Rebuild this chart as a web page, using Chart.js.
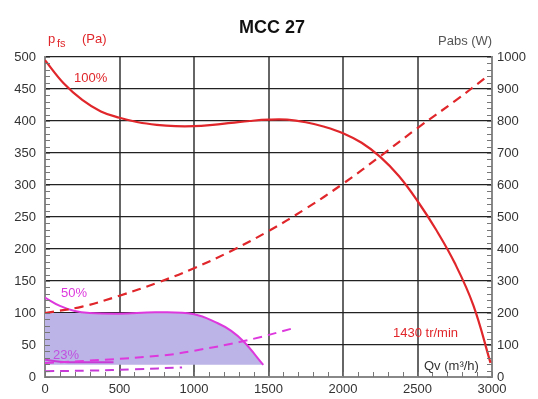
<!DOCTYPE html>
<html>
<head>
<meta charset="utf-8">
<script src="https://cdn.jsdelivr.net/npm/chart.js@4.4.0/dist/chart.umd.js"></script>
<style>
  html, body { margin: 0; padding: 0; background: #fff; }
  #wrap { width: 538px; height: 399px; }
</style>
</head>
<body>
<div id="wrap"><canvas id="c" width="538" height="399"></canvas></div>
<script>
// Qv (m3/h) vs pressure (Pa) / power (W)
const pressure100 = [[0,495],[125,459],[250,433],[375,415],[500,405],[625,398],[750,394],[875,392],[1000,392],[1125,394],[1250,397],[1375,400],[1500,402],[1625,402],[1750,398],[1875,391],[2000,381],[2125,366],[2250,344],[2375,314],[2500,275],[2625,230],[2750,178],[2875,112],[2990,22]];
const power100 = [[0,200],[250,220],[500,254],[750,294],[1000,340],[1250,394],[1500,456],[1750,526],[2000,604],[2250,690],[2500,778],[2750,862],[2970,940]];
const pressure50 = [[0,124],[100,111],[200,103],[300,100],[500,99],[750,101],[1000,98],[1160,84],[1250,72],[1335,55],[1465,19]];
const zone50 = [[0,100],[300,100],[500,99],[750,101],[1000,98],[1160,84],[1250,72],[1335,55],[1465,19]];
const power50 = [[0,44],[400,54],[800,68],[1000,82],[1350,114],[1680,154]];
const pressure23 = [[0,27],[100,24],[250,23],[460,23]];
const power23 = [[0,18],[300,20],[600,24],[920,30]];

const xTicks = [0, 500, 1000, 1500, 2000, 2500, 3000];
const paTicks = [0, 50, 100, 150, 200, 250, 300, 350, 400, 450, 500];
const wTicks = [0, 100, 200, 300, 400, 500, 600, 700, 800, 900, 1000];

const RED = '#e0262a';
const MAG = '#dd38dd';
const FONT = '"Liberation Sans", Arial, sans-serif';

const pts = arr => arr.map(p => ({ x: p[0], y: p[1] }));

// extra texts + minor ticks
const decor = {
  id: 'decor',
  afterDraw(chart) {
    const ctx = chart.ctx;
    const x = chart.scales.x, yl = chart.scales.y, yr = chart.scales.y2;
    const a = chart.chartArea;
    ctx.save();
    ctx.strokeStyle = '#777';
    ctx.lineWidth = 1;
    ctx.beginPath();
    for (let v = 0; v <= 500; v += 10) {
      const py = Math.round(yl.getPixelForValue(v)) + 0.5;
      ctx.moveTo(a.left, py); ctx.lineTo(a.left + 5, py);
    }
    for (let v = 0; v <= 1000; v += 20) {
      const py = Math.round(yr.getPixelForValue(v)) + 0.5;
      ctx.moveTo(a.right, py); ctx.lineTo(a.right - 5, py);
    }
    for (let v = 0; v <= 3000; v += 100) {
      const px = Math.round(x.getPixelForValue(v)) + 0.5;
      ctx.moveTo(px, a.bottom); ctx.lineTo(px, a.bottom - 5);
    }
    ctx.stroke();

    ctx.textBaseline = 'middle';
    ctx.textAlign = 'center';
    ctx.fillStyle = '#111';
    ctx.font = 'bold 18px ' + FONT;
    ctx.fillText('MCC 27', 272, 28);

    ctx.textAlign = 'left';
    ctx.font = '13px ' + FONT;
    ctx.fillStyle = RED;
    ctx.fillText('p', 48, 39);
    ctx.font = '11px ' + FONT;
    ctx.fillText('fs', 57, 44);
    ctx.font = '13px ' + FONT;
    ctx.fillText('(Pa)', 82, 39);
    ctx.fillText('100%', 74, 78);
    ctx.fillText('1430 tr/min', 393, 333);
    ctx.fillStyle = '#555';
    ctx.fillText('Pabs (W)', 438, 41);
    ctx.fillStyle = MAG;
    ctx.fillText('50%', 61, 293);
    ctx.fillStyle = '#c050e0';
    ctx.fillText('23%', 53, 355);
    ctx.fillStyle = '#333';
    ctx.fillText('Qv (m\u00b3/h)', 424, 366);
    ctx.restore();
  }
};

const line = (data, color, axis, dashed, width) => ({
  data: pts(data),
  yAxisID: axis,
  borderColor: color,
  borderWidth: width || 2,
  borderDash: dashed ? [9, 6] : [],
  pointRadius: 0,
  fill: false,
  order: 1,
  tension: 0.4
});

const plain = v => String(v);

new Chart(document.getElementById('c'), {
  type: 'line',
  data: {
    datasets: [
      Object.assign(line(zone50, 'rgba(0,0,0,0)', 'y', false, 0), {
        fill: { value: 19 },
        backgroundColor: '#bcb4e6',
        order: 10
      }),
      line(pressure100, RED, 'y', false, 2.2),
      line(power100, RED, 'y2', true, 2.2),
      line(pressure50, MAG, 'y', false, 2),
      line(power50, MAG, 'y2', true, 2),
      line(pressure23, '#c83ad8', 'y', false, 2),
      line(power23, '#c83ad8', 'y2', true, 2)
    ]
  },
  options: {
    responsive: false,
    animation: false,
    layout: { padding: { top: 57, left: 0, right: 0, bottom: 0 } },
    plugins: { legend: { display: false }, tooltip: { enabled: false } },
    scales: {
      x: {
        type: 'linear', min: 0, max: 3000,
        afterBuildTicks: s => { s.ticks = xTicks.map(v => ({ value: v })); },
        afterFit: s => { s.height = 22; },
        grid: { color: '#666', lineWidth: 2, drawTicks: false },
        border: { color: '#888', width: 2 },
        ticks: { color: '#333', font: { size: 13, family: FONT }, padding: 5, maxRotation: 0, callback: plain }
      },
      y: {
        position: 'left', min: 0, max: 500,
        afterBuildTicks: s => { s.ticks = paTicks.map(v => ({ value: v })); },
        afterFit: s => { s.width = 45; },
        grid: { color: '#222', lineWidth: 1.3, drawTicks: false },
        border: { color: '#888', width: 2 },
        ticks: { color: '#333', font: { size: 13, family: FONT }, padding: 9, callback: plain }
      },
      y2: {
        position: 'right', min: 0, max: 1000,
        afterBuildTicks: s => { s.ticks = wTicks.map(v => ({ value: v })); },
        afterFit: s => { s.width = 46; },
        grid: { display: false, drawTicks: false },
        border: { color: '#888', width: 2 },
        ticks: { color: '#333', font: { size: 13, family: FONT }, padding: 5, callback: plain }
      }
    }
  },
  plugins: [decor]
});
</script>
</body>
</html>
